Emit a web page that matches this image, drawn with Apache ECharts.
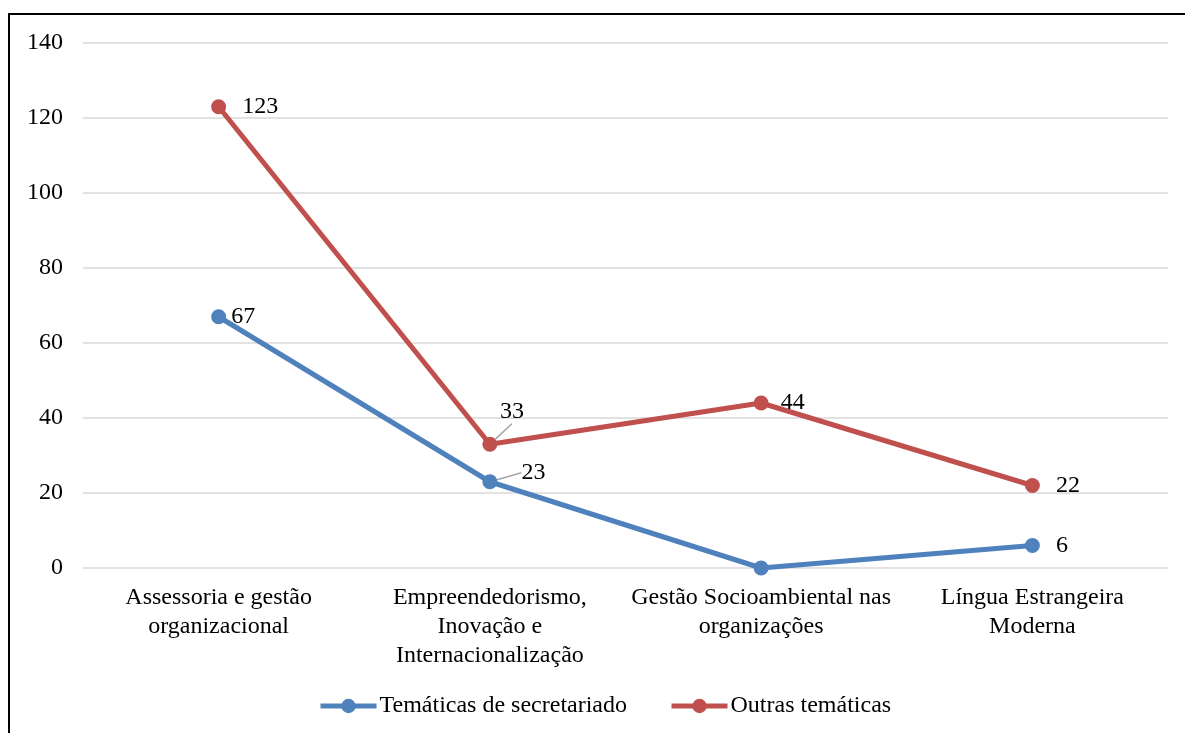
<!DOCTYPE html>
<html>
<head>
<meta charset="utf-8">
<script src="https://cdn.jsdelivr.net/npm/echarts@6/dist/echarts.min.js"></script>
<style>
  html, body { margin: 0; padding: 0; background: #fff; overflow: hidden; }
  #frame {
    position: absolute; left: 8px; top: 13px; width: 1300px; height: 900px;
    border-left: 2px solid #000; border-top: 2px solid #000; box-sizing: border-box;
  }
  #chart { position: absolute; left: 0; top: 0; width: 1185px; height: 733px; }
</style>
</head>
<body>
<div id="frame"></div>
<div id="chart"></div>
<script>
// Thematic areas (x axis)
const categories = [
  'Assessoria e gestão\norganizacional',
  'Empreendedorismo,\nInovação e\nInternacionalização',
  'Gestão Socioambiental nas\norganizações',
  'Língua Estrangeira\nModerna'
];
const seriesNames = ['Temáticas de secretariado', 'Outras temáticas'];
const secretariado = [67, 23, 0, 6];
const outras = [123, 33, 44, 22];
const yTicks = [0, 20, 40, 60, 80, 100, 120, 140];

const FONT = '"Liberation Serif", "Times New Roman", serif';
const FS = 24;
const BLUE = '#4F81BD';
const RED = '#C0504D';

// Per-point label placement (distance to the right of the marker, vertical nudge)
const blueLabels = [
  { distance: 5, offset: [0, -1] },
  { distance: 5, offset: [0, 2] },
  { show: false },
  { distance: 16, offset: [0, 5] }
];
const redLabels = [
  { distance: 16, offset: [0, 6] },
  { position: 'top', distance: 5, offset: [0, 2] },
  { distance: 12, offset: [0, -6] },
  { distance: 16, offset: [0, 5] }
];
// Only the crowded middle labels get a leader line
const guide = { show: true, lineStyle: { color: '#A6A6A6', width: 1.5 } };
const noGuide = { show: false };
const blueGuides = [noGuide, guide, noGuide, noGuide];
const redGuides = [noGuide, guide, noGuide, noGuide];

function buildData(values, labels, guides) {
  return values.map((v, i) => ({ value: v, label: labels[i], labelLine: guides[i] }));
}

const chart = echarts.init(document.getElementById('chart'), null, { renderer: 'canvas' });

const baseLabel = {
  show: true,
  position: 'right',
  color: '#000',
  fontFamily: FONT,
  fontSize: FS
};

chart.setOption({
  animation: false,
  textStyle: { fontFamily: FONT },
  grid: { left: 83, right: 17, top: 43, bottom: 165, containLabel: false },
  legend: {
    data: seriesNames,
    left: 313,
    top: 689,
    itemWidth: 56,
    itemHeight: 18,
    itemGap: 42,
    lineStyle: { width: 5 },
    textStyle: { fontFamily: FONT, fontSize: FS, color: '#000', padding: [0, 0, 0, -2] }
  },
  xAxis: {
    type: 'category',
    data: categories,
    boundaryGap: true,
    axisLine: { show: false },
    axisTick: { show: false },
    axisLabel: {
      interval: 0,
      margin: 15,
      color: '#000',
      fontFamily: FONT,
      fontSize: FS,
      lineHeight: 29
    }
  },
  yAxis: {
    type: 'value',
    min: yTicks[0],
    max: yTicks[yTicks.length - 1],
    interval: 20,
    axisLine: { show: false },
    axisTick: { show: false },
    axisLabel: { margin: 20, color: '#000', fontFamily: FONT, fontSize: FS, padding: [5, 0, 0, 0] },
    splitLine: { lineStyle: { color: '#D9D9D9', width: 1.5 } }
  },
  labelLayout: function (p) {
    // leader-lined labels at the second category
    if (p.dataIndex === 1 && p.seriesIndex === 0) return { dx: 19, dy: -9 };
    if (p.dataIndex === 1 && p.seriesIndex === 1) return { dx: 22, dy: -8 };
    return {};
  },
  series: [
    {
      name: seriesNames[0],
      type: 'line',
      data: buildData(secretariado, blueLabels, blueGuides),
      symbol: 'circle',
      symbolSize: 15,
      lineStyle: { color: BLUE, width: 5 },
      itemStyle: { color: BLUE },
      label: baseLabel,
      labelLine: noGuide,
      z: 3
    },
    {
      name: seriesNames[1],
      type: 'line',
      data: buildData(outras, redLabels, redGuides),
      symbol: 'circle',
      symbolSize: 15,
      lineStyle: { color: RED, width: 5 },
      itemStyle: { color: RED },
      label: baseLabel,
      labelLine: noGuide,
      z: 2
    }
  ]
});
</script>
</body>
</html>
